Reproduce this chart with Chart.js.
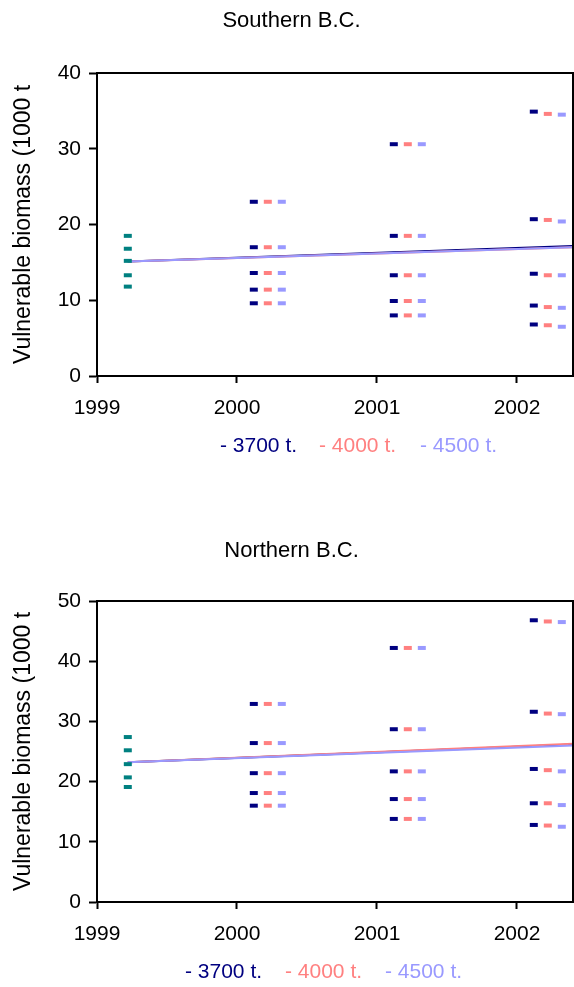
<!DOCTYPE html>
<html>
<head>
<meta charset="utf-8">
<title>Vulnerable biomass projections</title>
<script src="https://cdn.jsdelivr.net/npm/chart.js@4.4.1/dist/chart.umd.min.js"></script>
<style>
  body { margin: 0; background: #fff; }
  #wrap { position: relative; width: 574px; height: 987px; font-family: "Liberation Sans", Arial, sans-serif; }
  canvas { position: absolute; left: 0; }
  .legend { position: absolute; font-size: 21px; line-height: 21px; white-space: nowrap; }
</style>
</head>
<body>
<div id="wrap">
  <canvas id="southChart" width="574" height="528" style="top:0"></canvas>
  <canvas id="northChart" width="574" height="459" style="top:528px"></canvas>

  <div class="legend" style="top:434px;left:220px;color:#000080">- 3700 t.</div>
  <div class="legend" style="top:434px;left:319px;color:#FF8080">- 4000 t.</div>
  <div class="legend" style="top:434px;left:420px;color:#9999FF">- 4500 t.</div>

  <div class="legend" style="top:960px;left:185px;color:#000080">- 3700 t.</div>
  <div class="legend" style="top:960px;left:285px;color:#FF8080">- 4000 t.</div>
  <div class="legend" style="top:960px;left:385px;color:#9999FF">- 4500 t.</div>
</div>

<script>
// projection years and where each catch level sits beside its year
const projYears = [2000, 2001, 2002];
const catchLabels = ["3700 t.", "4000 t.", "4500 t."];
const catchOffset = [0.12, 0.22, 0.32];
const startYear = 1999.22;
const trendYears = [1999.22, 2002.4];

// Southern B.C. (1000 t)
const south1999 = [18.5, 16.8, 15.2, 13.3, 11.8];
const south3700 = [
  [23.0, 17.0, 13.6, 11.4, 9.6],
  [30.6, 18.5, 13.3, 9.9, 8.0],
  [34.9, 20.7, 13.5, 9.3, 6.8],
];
const south4000 = [
  [23.0, 17.0, 13.6, 11.4, 9.6],
  [30.6, 18.5, 13.3, 9.9, 8.0],
  [34.6, 20.6, 13.3, 9.1, 6.7],
];
const south4500 = [
  [23.0, 17.0, 13.6, 11.4, 9.6],
  [30.6, 18.5, 13.3, 9.9, 8.0],
  [34.5, 20.4, 13.3, 9.0, 6.5],
];
const southTrend = [
  [15.1, 17.15],
  [15.1, 17.0],
  [15.1, 17.0],
];

// Northern B.C. (1000 t)
const north1999 = [27.4, 25.2, 22.9, 20.7, 19.1];
const north3700 = [
  [32.9, 26.4, 21.4, 18.1, 16.0],
  [42.2, 28.7, 21.7, 17.1, 13.8],
  [46.8, 31.6, 22.1, 16.4, 12.8],
];
const north4000 = [
  [32.9, 26.4, 21.4, 18.1, 16.0],
  [42.2, 28.7, 21.7, 17.1, 13.8],
  [46.6, 31.3, 21.9, 16.4, 12.7],
];
const north4500 = [
  [32.9, 26.4, 21.4, 18.1, 16.0],
  [42.2, 28.7, 21.7, 17.1, 13.8],
  [46.5, 31.2, 21.7, 16.1, 12.5],
];
const northTrend = [
  [23.2, 26.15],
  [23.2, 26.3],
  [23.2, 26.0],
];

const colours = ["#000080", "#FF8080", "#9999FF"];
const teal = "#008080";
const fontFamily = "'Liberation Sans', Arial, sans-serif";

// black box round the plot area
const framePlugin = {
  id: "frame",
  afterDraw(chart) {
    const { ctx, chartArea } = chart;
    ctx.save();
    ctx.strokeStyle = "#000";
    ctx.lineWidth = 2;
    ctx.strokeRect(chartArea.left, chartArea.top, chartArea.right - chartArea.left, chartArea.bottom - chartArea.top);
    ctx.restore();
  },
};

function dashSet(label, points, colour) {
  return {
    label: label,
    data: points,
    order: 0,
    pointStyle: "line",
    pointRadius: 4,
    pointHoverRadius: 4,
    pointBorderWidth: 4,
    borderColor: colour,
    backgroundColor: colour,
    showLine: false,
  };
}

function makePanel(canvasId, titleText, yMax, base, series, trends, titleTop, padBottom) {
  const datasets = [];

  // trend lines through the projections, 3700 t. underneath
  trends.forEach((vals, i) => {
    datasets.push({
      label: catchLabels[i] + " trend",
      data: trendYears.map((x, k) => ({ x: x, y: vals[k] })),
      order: 3 - i,
      showLine: true,
      borderColor: colours[i],
      borderWidth: 2,
      pointRadius: 0,
    });
  });

  datasets.push(dashSet("1999", base.map((v) => ({ x: startYear, y: v })), teal));

  series.forEach((byYear, i) => {
    const pts = [];
    byYear.forEach((vals, yi) => {
      vals.forEach((v) => pts.push({ x: projYears[yi] + catchOffset[i], y: v }));
    });
    datasets.push(dashSet(catchLabels[i], pts, colours[i]));
  });

  return new Chart(document.getElementById(canvasId), {
    type: "scatter",
    data: { datasets: datasets },
    plugins: [framePlugin],
    options: {
      responsive: false,
      animation: false,
      layout: { autoPadding: false, padding: { left: 10, right: 1, top: 0, bottom: padBottom } },
      plugins: {
        legend: { display: false },
        tooltip: { enabled: false },
        title: {
          display: true,
          text: titleText,
          color: "#000",
          font: { family: fontFamily, size: 22, weight: "normal" },
          padding: { top: titleTop, bottom: 46.6 - titleTop },
        },
      },
      scales: {
        x: {
          type: "linear",
          min: 1999,
          max: 2002.4,
          afterFit: (s) => {
            s.height = 60;
            s.paddingLeft = 0;
            s.paddingRight = 0;
          },
          border: { display: true, color: "#000", width: 2 },
          grid: { drawOnChartArea: false, drawTicks: true, tickLength: 7, tickColor: "#000", tickWidth: 2 },
          ticks: {
            stepSize: 1,
            includeBounds: false,
            padding: 13,
            color: "#000",
            maxRotation: 0,
            font: { family: fontFamily, size: 21 },
            callback: (v) => (Number.isInteger(v) ? String(v) : ""),
          },
        },
        y: {
          min: 0,
          max: yMax,
          afterFit: (s) => {
            s.width = 87;
            s.paddingTop = 0;
            s.paddingBottom = 0;
          },
          border: { display: true, color: "#000", width: 2 },
          grid: { drawOnChartArea: false, drawTicks: true, tickLength: 8, tickColor: "#000", tickWidth: 2 },
          ticks: {
            stepSize: 10,
            padding: 8,
            color: "#000",
            font: { family: fontFamily, size: 21 },
          },
          title: {
            display: true,
            text: "Vulnerable biomass (1000 t",
            color: "#000",
            font: { family: fontFamily, size: 23 },
            padding: { top: 0, bottom: 0 },
          },
        },
      },
    },
  });
}

makePanel("southChart", "Southern B.C.", 40, south1999, [south3700, south4000, south4500], southTrend, 8, 92);
makePanel("northChart", "Northern B.C.", 50, north1999, [north3700, north4000, north4500], northTrend, 10, 25);
</script>
</body>
</html>
